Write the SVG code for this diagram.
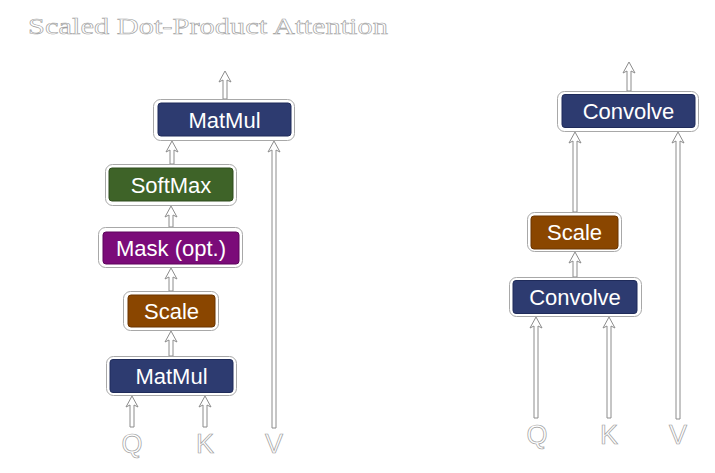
<svg xmlns="http://www.w3.org/2000/svg" width="715" height="473" viewBox="0 0 715 473">
<style>
.outer{fill:#fff;stroke:#a8a8a8;stroke-width:1}
.lbl{font-family:"Liberation Sans",Arial,sans-serif;font-size:22px;fill:#fff;text-anchor:middle}
.io{font-family:"Liberation Sans",Arial,sans-serif;font-size:27px;fill:#fff;stroke:#a0a0a0;stroke-width:0.7;text-anchor:middle}
.title{font-family:"Liberation Serif","Times New Roman",serif;font-size:24px;fill:#fff;stroke:#a0a0a0;stroke-width:0.6}
.arr{fill:#fff;stroke:#8c8c8c;stroke-width:1;stroke-linejoin:miter}
.navy{fill:#2d3b70;stroke:#1f2b5a}
.green{fill:#3e6328;stroke:#2e4c1c}
.purple{fill:#7b0b79;stroke:#5e055c}
.brown{fill:#8a4600;stroke:#6a3500}
</style>
<rect width="715" height="473" fill="#fff"/>
<text class="title" x="28" y="34" textLength="360" lengthAdjust="spacingAndGlyphs">Scaled Dot-Product Attention</text>

<g id="connectors">
<path class="arr" d="M225,71 L231,82 L227,80 L227,99 L223,99 L223,80 L219,82 Z"/>
<path class="arr" d="M172,141 L178,152 L174,150 L174,164 L170,164 L170,150 L166,152 Z"/>
<path class="arr" d="M171,206 L177,217 L173,215 L173,227 L169,227 L169,215 L165,217 Z"/>
<path class="arr" d="M171,268 L177,279 L173,277 L173,291 L169,291 L169,277 L165,279 Z"/>
<path class="arr" d="M171,331 L177,342 L173,340 L173,356 L169,356 L169,340 L165,342 Z"/>
<path class="arr" d="M132,396 L138,407 L134,405 L134,427 L130,427 L130,405 L126,407 Z"/>
<path class="arr" d="M205,396 L211,407 L207,405 L207,427 L203,427 L203,405 L199,407 Z"/>
<path class="arr" d="M274,141 L280,152 L276,150 L276,428 L272,428 L272,150 L268,152 Z"/>

<path class="arr" d="M629,62 L635,73 L631,71 L631,91 L627,91 L627,71 L623,73 Z"/>
<path class="arr" d="M575,132 L581,143 L577,141 L577,212 L573,212 L573,141 L569,143 Z"/>
<path class="arr" d="M575,252 L581,263 L577,261 L577,277 L573,277 L573,261 L569,263 Z"/>
<path class="arr" d="M536,317 L542,328 L538,326 L538,418 L534,418 L534,326 L530,328 Z"/>
<path class="arr" d="M609,317 L615,328 L611,326 L611,418 L607,418 L607,326 L603,328 Z"/>
<path class="arr" d="M678,132 L684,143 L680,141 L680,419 L676,419 L676,141 L672,143 Z"/>
</g>

<g id="matmul_top">
<rect class="outer" x="153.5" y="99.5" width="141" height="41" rx="7"/>
<rect class="navy" x="158" y="103" width="133" height="33" rx="3"/>
<text class="lbl" x="224.5" y="128">MatMul</text>
</g>
<g id="softmax">
<rect class="outer" x="105.5" y="164.5" width="131" height="41" rx="7"/>
<rect class="green" x="109" y="168" width="124" height="33" rx="3"/>
<text class="lbl" x="171" y="193">SoftMax</text>
</g>
<g id="mask">
<rect class="outer" x="98.5" y="227.5" width="144" height="40" rx="7"/>
<rect class="purple" x="103" y="232" width="136" height="32" rx="3"/>
<text class="lbl" x="171" y="255.5">Mask (opt.)</text>
</g>
<g id="scale_left">
<rect class="outer" x="123.5" y="291.5" width="95" height="39" rx="7"/>
<rect class="brown" x="128" y="295" width="87" height="32" rx="3"/>
<text class="lbl" x="171.5" y="319">Scale</text>
</g>
<g id="matmul_bottom">
<rect class="outer" x="106.5" y="356.5" width="130" height="39" rx="7"/>
<rect class="navy" x="110" y="359.5" width="123" height="33" rx="3"/>
<text class="lbl" x="171.5" y="384">MatMul</text>
</g>
<g id="q_left"><text class="io" x="132" y="453">Q</text></g>
<g id="k_left"><text class="io" x="205" y="453">K</text></g>
<g id="v_left"><text class="io" x="274" y="453">V</text></g>

<g id="convolve_top">
<rect class="outer" x="557.5" y="91.5" width="141" height="40" rx="7"/>
<rect class="navy" x="562" y="94.5" width="133" height="33" rx="3"/>
<text class="lbl" x="628.5" y="119">Convolve</text>
</g>
<g id="scale_right">
<rect class="outer" x="527.5" y="212.5" width="94" height="39" rx="7"/>
<rect class="brown" x="531" y="216" width="87" height="33" rx="3"/>
<text class="lbl" x="574.5" y="240">Scale</text>
</g>
<g id="convolve_bottom">
<rect class="outer" x="509.5" y="277.5" width="132" height="39" rx="7"/>
<rect class="navy" x="513" y="280.5" width="124" height="33" rx="3"/>
<text class="lbl" x="575" y="305">Convolve</text>
</g>
<g id="q_right"><text class="io" x="537" y="444">Q</text></g>
<g id="k_right"><text class="io" x="609" y="444">K</text></g>
<g id="v_right"><text class="io" x="678" y="444">V</text></g>
</svg>
